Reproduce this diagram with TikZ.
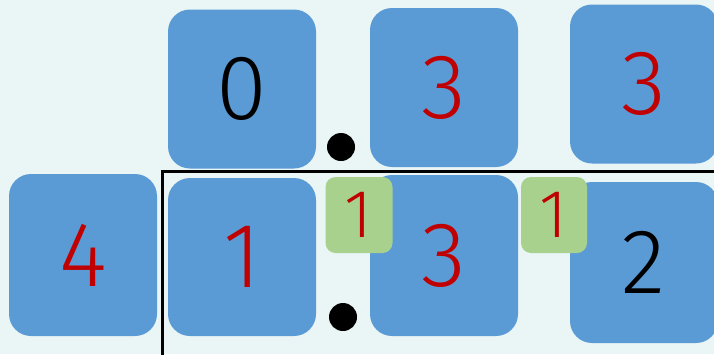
\documentclass[tikz,border=0pt]{standalone}
\usepackage{fontspec}
\setmainfont{Fira Sans Light}
\definecolor{bg}{HTML}{EAF5F5}
\definecolor{cblue}{HTML}{5B9BD5}
\definecolor{cgreen}{HTML}{A9D18E}
\definecolor{cred}{HTML}{C00000}
\begin{document}
\begin{tikzpicture}[x=1pt,y=-1pt,
  box/.style={fill=cblue, draw=none, rounded corners=22pt, inner sep=0pt,
    minimum width=148pt, minimum height=159pt, font=\fontsize{92}{92}\selectfont},
  gbox/.style={fill=cgreen, draw=none, rounded corners=10pt, inner sep=0pt,
    minimum width=67pt, minimum height=76pt, font=\fontsize{68}{68}\selectfont, text=cred},
  dotn/.style={circle, fill=black, inner sep=0pt, minimum size=28pt},
  frame/.style={draw=black, line width=3pt}]
\fill[bg] (0,0) rectangle (714,354);
\useasboundingbox (0,0) rectangle (714,354);
\clip (0,0) rectangle (714,354);
% top row
\node[box, text=black] (b0) at (242,89) {0};
\node[box, text=cred] (b3a) at (444,87.5) {3};
\node[box, text=cred] (b3b) at (644,84) {3};
% bottom row
\node[box, text=cred, minimum height=162pt] (b4) at (83,255) {4};
\node[box, text=cred, minimum height=158pt] (b1) at (242,257) {1};
\node[box, text=cred, minimum height=161pt] (b3c) at (444,255.5) {3};
\node[box, text=black, minimum height=161pt] (b2) at (644,262.5) {2};
% green carries
\node[gbox] (g1) at (359,215) {1};
\node[gbox, minimum width=66pt] (g2) at (554,215) {1};
% dots
\node[dotn] (d1) at (341,147) {};
\node[dotn] (d2) at (343,317) {};
% frame
\draw[frame] (162.5,360) -- (162.5,171.5) -- (720,171.5);
\end{tikzpicture}
\end{document}
